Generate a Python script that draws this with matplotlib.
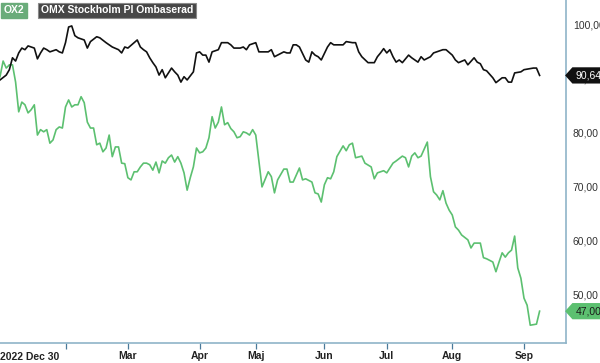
import matplotlib
matplotlib.use('Agg')
import matplotlib.pyplot as plt
from matplotlib.path import Path

plt.rcParams.update({
    'font.family': ['Liberation Sans', 'DejaVu Sans'],
    'font.size': 7.5,
})

# ── data: trading-day index -> value ─────────────────────────────
OMX_DAY = [0, 2, 3, 4, 5, 6, 7, 8, 9, 10, 11, 12, 13, 14, 15, 16, 18, 19, 20,
           21, 22, 23, 24, 25, 27, 28, 29, 31, 32, 34, 36, 38, 39, 40, 41, 43,
           44, 45, 46, 47, 48, 49, 50, 51, 52, 53, 54, 55, 56, 57, 58, 59, 60,
           62, 63, 64, 65, 66, 67, 68, 70, 71, 73, 74, 75, 77, 78, 79, 80, 82,
           83, 84, 86, 87, 88, 89, 91, 92, 93, 94, 95, 96, 98, 99, 100, 101,
           102, 103, 105, 106, 107, 110, 111, 113, 114, 115, 116, 118, 120,
           121, 122, 123, 124, 125, 126, 127, 128, 129, 131, 132, 134, 135,
           136, 138, 139, 140, 142, 143, 145, 146, 147, 149, 150, 152, 153,
           154, 155, 156, 158, 159, 161, 162, 163, 164, 165, 167, 168, 171,
           172, 173]
OMX_VAL = [89.8, 90.7, 91.7, 93.9, 93.3, 94.8, 95.7, 95.4, 96.1, 95.9, 95.7,
           93.7, 94.8, 95.7, 95.4, 95.0, 95.4, 95.0, 94.8, 96.7, 99.6, 99.8,
           98.0, 97.6, 97.2, 95.7, 96.9, 97.8, 97.6, 96.7, 95.9, 95.4, 94.8,
           95.9, 95.7, 96.7, 97.2, 95.9, 95.4, 95.0, 93.9, 93.0, 92.2, 90.7,
           91.7, 90.2, 91.1, 92.0, 91.3, 90.7, 89.4, 90.4, 89.8, 91.3, 94.8,
           95.0, 94.4, 94.4, 93.1, 95.0, 95.4, 96.7, 96.7, 96.3, 95.7, 95.7,
           95.9, 95.4, 96.3, 96.7, 95.0, 95.0, 95.0, 95.4, 94.1, 94.4, 95.0,
           94.8, 94.8, 96.3, 96.3, 95.9, 93.5, 93.1, 95.0, 94.4, 94.1, 93.5,
           95.9, 96.7, 96.3, 96.3, 96.9, 96.7, 96.7, 95.0, 94.1, 93.0, 93.0,
           94.1, 94.8, 95.6, 94.8, 95.4, 94.1, 93.1, 93.5, 93.0, 94.4, 93.9,
           93.1, 94.1, 93.5, 94.1, 94.8, 95.0, 95.4, 95.4, 94.4, 93.5, 93.0,
           93.5, 92.6, 93.9, 93.1, 92.8, 91.7, 91.5, 90.2, 89.3, 90.2, 90.2,
           89.4, 89.4, 91.1, 91.3, 91.7, 92.0, 92.0, 90.64]

OX2_DAY = list(range(0, 83)) + [84, 86, 87, 88, 89, 91, 92, 93, 94, 96, 97,
           98, 100, 101, 102, 103, 104, 105, 106, 107, 108, 110, 111, 112,
           113, 114, 116, 117, 119, 120, 121, 123, 124, 126, 127, 129, 130,
           131, 132, 133, 134, 135, 137, 138, 139, 140, 141, 142, 143, 144,
           145, 146, 147, 148, 150, 151, 152, 154, 155, 156, 158, 159, 160,
           161, 162, 163, 164, 165, 166, 167, 168, 169, 170, 172, 173]
OX2_VAL = [90.4, 93.3, 92.0, 92.6, 92.6, 89.4, 83.9, 85.7, 85.2, 83.7, 84.3,
           85.2, 79.6, 80.6, 80.2, 80.6, 78.1, 78.7, 80.6, 81.1, 80.9, 84.8,
           86.1, 84.8, 85.2, 85.2, 86.7, 85.6, 82.0, 80.9, 80.9, 77.8, 78.1,
           76.5, 77.2, 79.6, 75.6, 77.4, 77.4, 74.4, 74.3, 71.7, 71.3, 72.8,
           72.8, 73.7, 74.4, 74.4, 74.1, 73.1, 74.6, 72.6, 74.8, 74.4, 75.4,
           75.9, 74.6, 75.6, 74.4, 72.6, 69.4, 71.7, 73.7, 77.2, 76.3, 76.5,
           77.2, 79.1, 83.0, 80.9, 82.0, 84.8, 81.5, 81.9, 80.8, 80.2, 79.1,
           79.3, 80.2, 80.0, 79.6, 80.6, 79.6,
           70.0, 72.8, 71.9, 68.9, 71.3, 73.3, 73.3, 70.9, 70.9, 73.5, 71.3,
           71.5, 70.9, 68.9, 68.7, 67.2, 70.4, 71.7, 71.5, 72.8, 75.6, 77.6,
           76.7, 77.8, 78.1, 75.4, 75.7, 74.4, 73.7, 71.5, 72.6, 73.0, 72.6,
           74.4, 74.8, 75.7, 75.4, 73.7, 75.7, 76.3, 75.4, 75.7, 78.3, 71.9,
           69.1, 68.5, 67.6, 69.3, 67.0, 65.7, 64.8, 62.6, 62.0, 61.1, 60.2,
           58.7, 59.6, 59.6, 56.9, 56.7, 56.1, 54.3, 56.1, 57.8, 57.0, 57.8,
           58.3, 60.9, 55.0, 53.1, 49.4, 48.1, 44.4, 44.6, 47.0]

TICK_POS = [0, 21, 41, 64, 82, 104, 124, 145, 168]
TICK_LAB = ['2022 Dec 30', '', 'Mar', 'Apr', 'Maj', 'Jun', 'Jul', 'Aug', 'Sep']
Y_TICKS = [50, 60, 70, 80, 90, 100]

GREEN = '#5cc070'
BLACK = '#111111'
AXIS_COL = '#8fb4c8'

fig = plt.figure(figsize=(6.0, 3.63), dpi=100)
ax = fig.add_axes([0.0, 0.055, 0.943, 0.945])

ax.plot(OMX_DAY, OMX_VAL, color=BLACK, lw=1.2, zorder=4)
ax.plot(OX2_DAY, OX2_VAL, color=GREEN, lw=1.2, zorder=3)

ax.set_xlim(0, 181.4)
ax.set_ylim(41.1, 104.6)

for s in ['top', 'left']:
    ax.spines[s].set_visible(False)
for s in ['right', 'bottom']:
    ax.spines[s].set_color(AXIS_COL)
    ax.spines[s].set_linewidth(1.2)

# x ticks
ax.set_xticks(TICK_POS[1:])
ax.set_xticklabels(TICK_LAB[1:], fontweight='bold', color='#222222')
ax.tick_params(axis='x', length=4, width=0.9, color='#4a7a9a', pad=2)
ax.text(TICK_POS[0], -0.025, TICK_LAB[0], transform=ax.get_xaxis_transform(),
        ha='left', va='top', fontweight='bold', color='#222222', clip_on=False)

# y ticks on right
ax.yaxis.tick_right()
ax.set_yticks(Y_TICKS)
ax.set_yticklabels([f'{v:.2f}'.replace('.', ',') for v in Y_TICKS],
                   color='#333333')
ax.tick_params(axis='y', length=0, pad=5)


# ── value tags on right axis ─────────────────────────────────────
def tag_box(x0, y0, width, height, mutation_size):
    pad = 0.3 * mutation_size
    x0, y0 = x0 - pad, y0 - pad
    w, h = width + 2 * pad, height + 2 * pad
    tip = 0.45 * h
    verts = [(x0 - tip, y0 + h / 2), (x0, y0), (x0 + w, y0),
             (x0 + w, y0 + h), (x0, y0 + h), (x0 - tip, y0 + h / 2)]
    return Path(verts, closed=True)


for val, fc, tc in [(OMX_VAL[-1], BLACK, 'white'), (OX2_VAL[-1], GREEN, '#1a1a1a')]:
    ax.annotate(f'{val:.2f}'.replace('.', ','), xy=(1, val),
                xycoords=('axes fraction', 'data'),
                xytext=(7, 0), textcoords='offset points',
                ha='left', va='center', color=tc, fontsize=7.5,
                bbox=dict(boxstyle=tag_box, fc=fc, ec='none'),
                annotation_clip=False, zorder=10)

# ── legend chips at top left ─────────────────────────────────────
fig.text(0.006, 0.972, 'OX2', ha='left', va='center', color='white',
         fontweight='bold', fontsize=7.5,
         bbox=dict(boxstyle='square,pad=0.25', fc='#6aac7a', ec='#6aac7a'))
fig.text(0.068, 0.972, 'OMX Stockholm PI Ombaserad', ha='left', va='center',
         color='white', fontweight='bold', fontsize=7.5,
         bbox=dict(boxstyle='square,pad=0.25', fc='#474747', ec='#8a8a8a',
                   lw=0.8))

fig.savefig('out.png', dpi=100)
